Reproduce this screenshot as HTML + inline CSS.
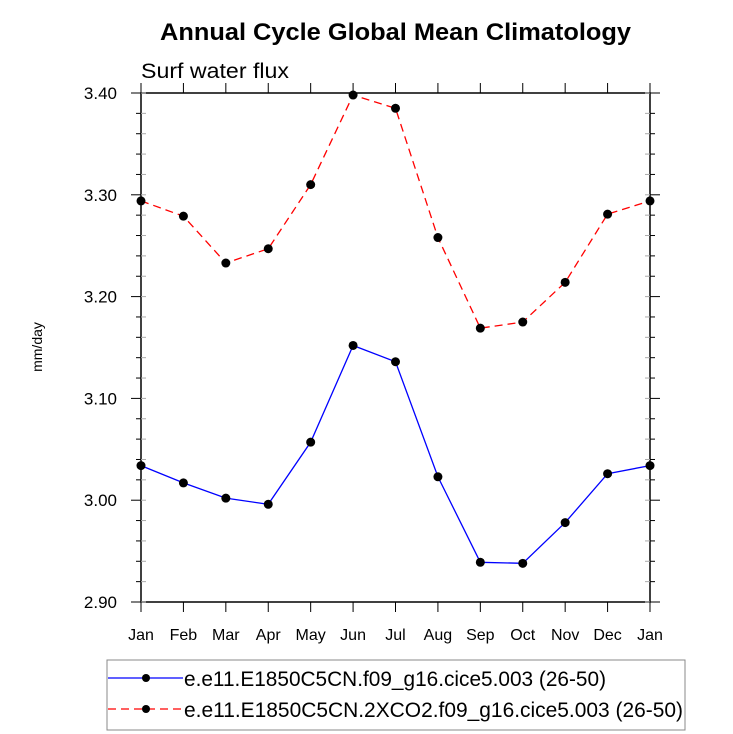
<!DOCTYPE html>
<html><head><meta charset="utf-8"><style>
body{margin:0;background:#fff}
svg{display:block;font-family:"Liberation Sans",sans-serif}
</style></head><body>
<svg id="c" width="733" height="734">
<text x="160" y="40" textLength="471" lengthAdjust="spacingAndGlyphs" font-size="24" font-weight="bold">Annual Cycle Global Mean Climatology</text>
<text x="141" y="78" textLength="148" lengthAdjust="spacingAndGlyphs" font-size="21">Surf water flux</text>
<text transform="translate(42,347) rotate(-90)" text-anchor="middle" font-size="14">mm/day</text>
<g id="axes"></g>
<g id="series"></g>
<rect x="107" y="660" width="578" height="70" fill="none" stroke="#888"/>
<g>
<line x1="108" y1="678" x2="183" y2="678" stroke="#00f" stroke-width="1.3"/>
<circle cx="146" cy="678" r="4" fill="#000"/>
<text x="184" y="686" textLength="422" lengthAdjust="spacingAndGlyphs" font-size="21">e.e11.E1850C5CN.f09_g16.cice5.003 (26-50)</text>
</g>
<g>
<line x1="108" y1="709" x2="183" y2="709" stroke="#f00" stroke-width="1.3" stroke-dasharray="8,5"/>
<circle cx="146" cy="709" r="4" fill="#000"/>
<text x="184" y="717" textLength="499" lengthAdjust="spacingAndGlyphs" font-size="21">e.e11.E1850C5CN.2XCO2.f09_g16.cice5.003 (26-50)</text>
</g>
</svg>
<script>
const months=["Jan","Feb","Mar","Apr","May","Jun","Jul","Aug","Sep","Oct","Nov","Dec","Jan"];
const controlValues=[3.034,3.017,3.002,2.996,3.057,3.152,3.136,3.023,2.939,2.938,2.978,3.026,3.034];
const co2Values=[3.294,3.279,3.233,3.247,3.310,3.398,3.385,3.258,3.169,3.175,3.214,3.281,3.294];
const yTicks=[2.90,3.00,3.10,3.20,3.30,3.40];
const yTickLabels=["2.90","3.00","3.10","3.20","3.30","3.40"];
const X0=141,X1=650,Y0=602,Y1=93,ymin=2.9,ymax=3.4;
const ns="http://www.w3.org/2000/svg";
function xs(i){return X0+(X1-X0)*i/(months.length-1);}
function ys(v){return Y0-(v-ymin)/(ymax-ymin)*(Y0-Y1);}
function mk(t,a,p){const e=document.createElementNS(ns,t);for(const k in a)e.setAttribute(k,a[k]);p.appendChild(e);return e;}
const ax=document.getElementById('axes');
const frame=mk('rect',{x:X0,y:Y1,width:X1-X0,height:Y0-Y1,fill:'none',stroke:'#000','stroke-width':1.5},ax);


for(let v=ymin;v<=ymax+1e-9;v+=0.02){const y=ys(v);const maj=Math.abs(Math.round(v*10)-v*10)<1e-6;const l=maj?10:5;
mk('line',{x1:X0-l,y1:y,x2:X0,y2:y,stroke:'#000'},ax);mk('line',{x1:X1,y1:y,x2:X1+l,y2:y,stroke:'#000'},ax);
mk('line',{x1:X0,y1:y,x2:X0+5,y2:y,stroke:'#aaa'},ax);mk('line',{x1:X1-5,y1:y,x2:X1,y2:y,stroke:'#aaa'},ax);}
yTicks.forEach((v,i)=>{const t=mk('text',{x:117,y:ys(v)+6,'text-anchor':'end','font-size':17},ax);t.textContent=yTickLabels[i];

});
months.forEach((m,i)=>{const x=xs(i);mk('line',{x1:x,y1:Y0,x2:x,y2:Y0+10,stroke:'#000'},ax);mk('line',{x1:x,y1:Y1-10,x2:x,y2:Y1,stroke:'#000'},ax);
const t=mk('text',{x:x,y:640,'text-anchor':'middle','font-size':16},ax);t.textContent=m;

});
const sg=document.getElementById('series');
function draw(vals,color,dash,name){const g=mk('g',{},sg);


const a={points:vals.map((v,i)=>xs(i)+','+ys(v)).join(' '),fill:'none',stroke:color,'stroke-width':1.3};if(dash)a['stroke-dasharray']=dash;mk('polyline',a,g);
vals.forEach((v,i)=>{const c=mk('circle',{cx:xs(i),cy:ys(v),r:4.5,fill:'#000'},g);

});}
draw(controlValues,'#00f',null,'series-control');
draw(co2Values,'#f00','8,5','series-2xco2');
</script>
</body></html>
